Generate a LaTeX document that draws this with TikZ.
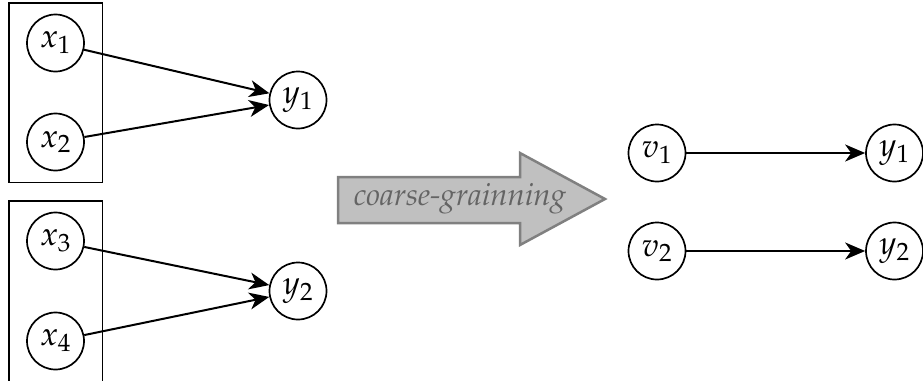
\documentclass[tikz,border=0pt]{standalone}
\usepackage{mathpazo}
\usepackage[T1]{fontenc}
\usetikzlibrary{arrows.meta,fit}
\definecolor{arrfill}{RGB}{192,192,192}
\definecolor{arrdraw}{RGB}{128,128,128}
\definecolor{arrtext}{RGB}{100,100,100}
\begin{document}
\begin{tikzpicture}[x=1pt,y=-1pt,
  var/.style={circle, draw, line width=1.7pt, minimum size=57pt, inner sep=0pt, font=\fontsize{33}{37}\selectfont},
  edge/.style={line width=2pt, -{Stealth[length=20pt,width=17pt,inset=6pt]}},
  group/.style={draw, line width=1.7pt, inner xsep=17.5pt, inner ysep=11pt}]
\useasboundingbox (0,0) rectangle (923,380);
% left graph
\node[var] (x1) at (55.5,43) {$x_1$};
\node[var] (x2) at (55.5,142) {$x_2$};
\node[var] (y1) at (298,100) {$y_1$};
\node[var] (x3) at (55.5,241) {$x_3$};
\node[var] (x4) at (55.5,341) {$x_4$};
\node[var] (y2) at (298,291) {$y_2$};
\node[group, fit=(x1)(x2)] (g1) {};
\node[group, fit=(x3)(x4)] (g2) {};
\draw[edge] (x1) -- (y1);
\draw[edge] (x2) -- (y1);
\draw[edge] (x3) -- (y2);
\draw[edge] (x4) -- (y2);
% block arrow
\draw[line width=2.5pt, draw=arrdraw, fill=arrfill, line join=miter]
  (338,177) -- (520,177) -- (520,153) -- (605,199) -- (520,245) -- (520,223) -- (338,223) -- cycle;
\node[text=arrtext, font=\fontsize{31}{35}\selectfont\itshape] (cg) at (460,199) {coarse-grainning};
% right graph
\node[var] (v1) at (657,153) {$v_1$};
\node[var] (w1) at (894.5,153) {$y_1$};
\node[var] (v2) at (657,251) {$v_2$};
\node[var] (w2) at (894.5,251) {$y_2$};
\draw[edge] (v1) -- (w1);
\draw[edge] (v2) -- (w2);
\end{tikzpicture}
\end{document}
